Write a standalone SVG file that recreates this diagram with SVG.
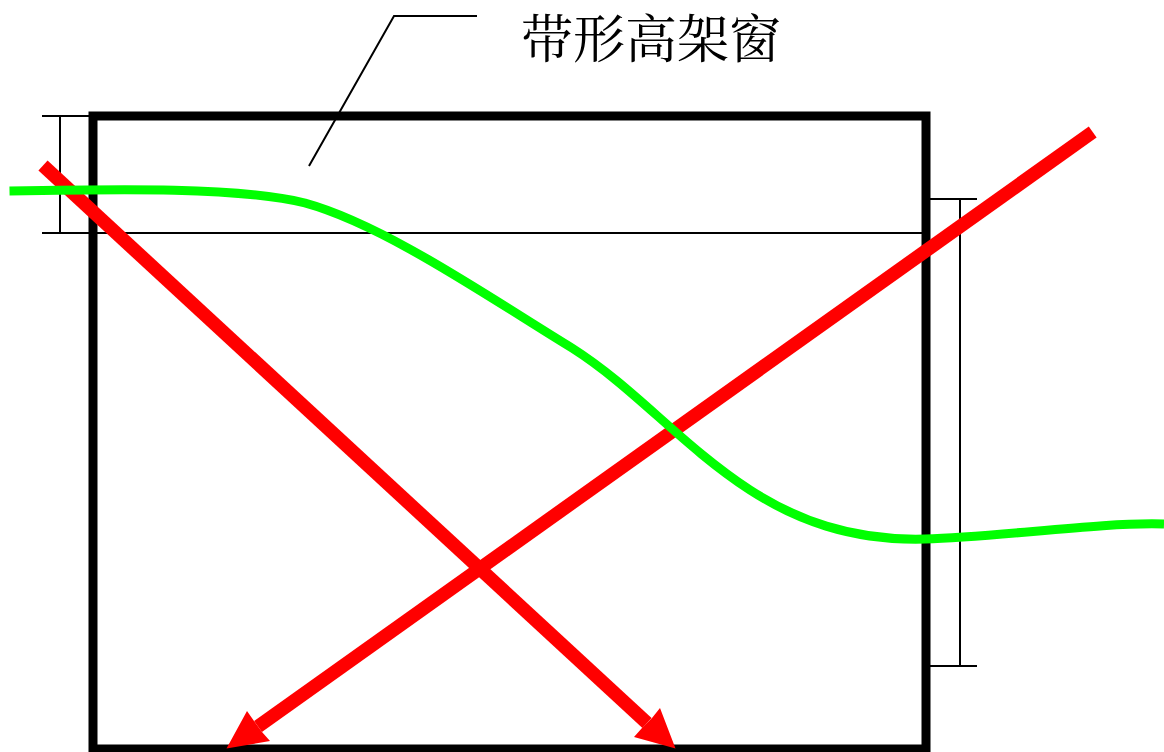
<svg xmlns="http://www.w3.org/2000/svg" width="1164" height="752" viewBox="0 0 1164 752">
<style>
.thin{stroke:#000;stroke-width:2;fill:none}
.red{stroke:#f00;stroke-width:13.5;fill:none}
</style>
<rect width="1164" height="752" fill="#fff"/>
<g id="room"><rect x="93" y="116" width="833" height="633" fill="none" stroke="#000" stroke-width="9"/></g>
<g id="dimensions">
<path class="thin" d="M42 116H93M60 116V233M42 233H926M930 199H977M960 199V666M930 666H977"/>
</g>
<g id="leader"><path class="thin" d="M309 166L394 16H477"/></g>
<g id="label"><text x="521" y="58" font-size="52" font-family="'Noto Serif CJK SC','Noto Sans CJK SC',serif">带形高架窗</text></g>
<g id="connectors">
<path class="red" d="M43 165.500L647 723"/>
<path d="M675.500 748.500L634 737L642 728L652 718L660 708Z" fill="#f00"/>
<path class="red" d="M1092.700 132L258 726.500"/>
<path d="M226.500 748.500L247 711L254 721L262 732L270 741Z" fill="#f00"/>
<path d="M9.500 191C120 189 240 187 305 203C385 225 490 298 572 348C635 388 680 444 750 490C795 519 850 541 925 539C1000 537 1100 522 1164 524" fill="none" stroke="#0f0" stroke-width="9"/>
</g>
</svg>
